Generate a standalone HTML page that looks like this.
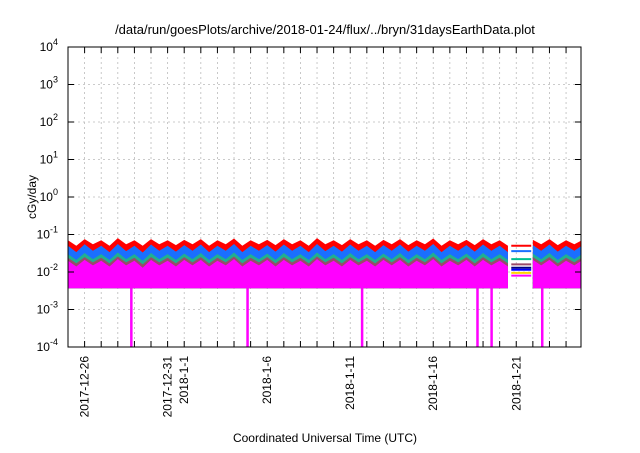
<!DOCTYPE html>
<html><head><meta charset="utf-8"><style>
body{margin:0;background:#fff;width:640px;height:448px;overflow:hidden;font-family:"Liberation Sans",sans-serif}
</style></head><body>
<svg id="chart" width="640" height="448" xmlns="http://www.w3.org/2000/svg" font-family="Liberation Sans, sans-serif">
<defs><clipPath id="pc"><rect x="68" y="47" width="513" height="300"/></clipPath></defs>
<text x="325" y="34" font-size="13" text-anchor="middle">/data/run/goesPlots/archive/2018-01-24/flux/../bryn/31daysEarthData.plot</text>
<text transform="translate(36,197) rotate(-90)" font-size="12" text-anchor="middle">cGy/day</text>
<text x="325" y="442" font-size="12" text-anchor="middle">Coordinated Universal Time (UTC)</text>
<g id="grid"></g><g id="series" clip-path="url(#pc)"></g><g id="axes"></g>
</svg>
<script>
const redVals=[0.07,0.05,0.075,0.055,0.07,0.05,0.08,0.055,0.07,0.05,0.075,0.055,0.07,0.052,0.072,0.055,0.075,0.05,0.07,0.055,0.078,0.05,0.07,0.055,0.072,0.052,0.075,0.055,0.07,0.05,0.08,0.055,0.07,0.052,0.075,0.055,0.07,0.05,0.072,0.055,0.075,0.052,0.07,0.055,0.078,0.05,0.07,0.055,0.072,0.052,0.075,0.055,0.07,0.05,null,null,0.072,0.055,0.075,0.052,0.07,0.055,0.072];
const blueVals=[0.05,0.034,0.055,0.037,0.05,0.034,0.056,0.036,0.05,0.033,0.054,0.037,0.05,0.035,0.052,0.037,0.054,0.034,0.05,0.037,0.056,0.034,0.05,0.037,0.052,0.035,0.054,0.037,0.05,0.034,0.056,0.036,0.05,0.035,0.054,0.037,0.05,0.034,0.052,0.037,0.054,0.035,0.05,0.037,0.056,0.034,0.05,0.037,0.052,0.035,0.054,0.037,0.05,0.034,null,null,0.052,0.037,0.054,0.035,0.05,0.037,0.052];
const tealVals=[0.03,0.021,0.032,0.022,0.03,0.021,0.033,0.022,0.03,0.02,0.032,0.022,0.03,0.021,0.031,0.022,0.032,0.021,0.03,0.022,0.033,0.021,0.03,0.022,0.031,0.021,0.032,0.022,0.03,0.021,0.033,0.022,0.03,0.021,0.032,0.022,0.03,0.021,0.031,0.022,0.032,0.021,0.03,0.022,0.033,0.021,0.03,0.022,0.031,0.021,0.032,0.022,0.03,0.021,null,null,0.031,0.022,0.032,0.021,0.03,0.022,0.031];
const brownVals=[0.024,0.017,0.025,0.018,0.024,0.017,0.026,0.018,0.024,0.016,0.025,0.018,0.024,0.017,0.025,0.018,0.025,0.017,0.024,0.018,0.026,0.017,0.024,0.018,0.025,0.017,0.025,0.018,0.024,0.017,0.026,0.018,0.024,0.017,0.025,0.018,0.024,0.017,0.025,0.018,0.025,0.017,0.024,0.018,0.026,0.017,0.024,0.018,0.025,0.017,0.025,0.018,0.024,0.017,null,null,0.025,0.018,0.025,0.017,0.024,0.018,0.025];
const magTopVals=[0.02,0.014,0.021,0.015,0.02,0.014,0.022,0.015,0.02,0.013,0.021,0.015,0.02,0.014,0.021,0.015,0.021,0.014,0.02,0.015,0.022,0.014,0.02,0.015,0.021,0.014,0.021,0.015,0.02,0.014,0.022,0.015,0.02,0.014,0.021,0.015,0.02,0.014,0.021,0.015,0.021,0.014,0.02,0.015,0.022,0.014,0.02,0.015,0.021,0.014,0.021,0.015,0.02,0.014,null,null,0.021,0.015,0.021,0.014,0.02,0.015,0.021];
const magBottom=0.0037;
const dropDays=[3.8,10.8,17.7,24.65,25.5,28.55];
const gapDays=[26.7,27.9];
const gapLevels=[0.05,0.036,0.022,0.016,0.013,0.0115,0.0095,0.008];
const gapColors=["#ff0000","#1a6fff","#00c090","#9a4a6a","#000080","#0000ff","#ffd700","#ff00ff"];
const yTickExp=[4,3,2,1,0,-1,-2,-3,-4];
const xTickLabels=[["2017-12-26",1],["2017-12-31",6],["2018-1-1",7],["2018-1-6",12],["2018-1-11",17],["2018-1-16",22],["2018-1-21",27]];
const X0=68,X1=581,Y0=47,Y1=347,DAYS=30.9;
const xs=d=>X0+d/DAYS*(X1-X0);
const ys=v=>Y1-(Math.log10(v)+4)/8*(Y1-Y0);
const NS="http://www.w3.org/2000/svg";
function mk(tag,attrs,parent){const e=document.createElementNS(NS,tag);for(const k in attrs)e.setAttribute(k,attrs[k]);parent.appendChild(e);return e;}
const grid=document.getElementById('grid'),ser=document.getElementById('series'),ax=document.getElementById('axes');
for(let d=1;d<DAYS;d++){const l=mk('line',{x1:xs(d),x2:xs(d),y1:Y0,y2:Y1,stroke:'#bbb','stroke-dasharray':'2,3','stroke-width':0.8},grid);

}
yTickExp.forEach(e=>{const y=ys(Math.pow(10,e));
if(e<4&&e>-4){const l=mk('line',{x1:X0,x2:X1,y1:y,y2:y,stroke:'#bbb','stroke-dasharray':'2,3','stroke-width':0.8},grid);

}
const t=mk('text',{x:58,y:y+4,'font-size':12,'text-anchor':'end'},ax);


t.textContent='10';const s=mk('tspan',{dy:-6,'font-size':9},t);s.textContent=String(e);
mk('line',{x1:X0,x2:X0+6,y1:y,y2:y,stroke:'#000'},ax);mk('line',{x1:X1,x2:X1-6,y1:y,y2:y,stroke:'#000'},ax);});
function area(top,bot,color,name){let segs=[],cur=[];
top.forEach((v,i)=>{if(v==null){if(cur.length)segs.push(cur);cur=[];}else cur.push([i*0.5,v,bot[i]]);});if(cur.length)segs.push(cur);
segs.forEach(s=>{let p=s.map(q=>xs(q[0])+','+ys(q[1]));for(let i=s.length-1;i>=0;i--)p.push(xs(s[i][0])+','+ys(s[i][2]));
const pg=mk('polygon',{points:p.join(' '),fill:color},ser);

});}
const bot=redVals.map(v=>v==null?null:magBottom);
area(redVals,bot,'#ff0000','series-red');
area(blueVals,bot,'#1a6fff','series-blue');
area(tealVals,bot,'#20b090','series-teal');
area(brownVals,bot,'#9a4a6a','series-brown');
area(magTopVals,bot,'#ff00ff','series-magenta');
dropDays.forEach(d=>{const r=mk('rect',{x:xs(d)-1,y:ys(magBottom),width:2.5,height:Y1-ys(magBottom),fill:'#ff00ff'},ser);

});
gapLevels.forEach((v,i)=>{const l=mk('line',{x1:xs(gapDays[0]),x2:xs(gapDays[1]),y1:ys(v),y2:ys(v),stroke:gapColors[i],'stroke-width':2},ser);

});
for(let d=1;d<DAYS;d++){mk('line',{x1:xs(d),x2:xs(d),y1:Y1,y2:Y1-6,stroke:'#000'},ax);mk('line',{x1:xs(d),x2:xs(d),y1:Y0,y2:Y0+6,stroke:'#000'},ax);}
xTickLabels.forEach(([lab,d])=>{const t=mk('text',{transform:`translate(${xs(d)+4},356) rotate(-90)`,'font-size':12,'text-anchor':'end'},ax);


t.textContent=lab;});
const fr=mk('rect',{x:X0,y:Y0,width:X1-X0,height:Y1-Y0,fill:'none',stroke:'#000','stroke-width':1},ax);


</script>
</body></html>
